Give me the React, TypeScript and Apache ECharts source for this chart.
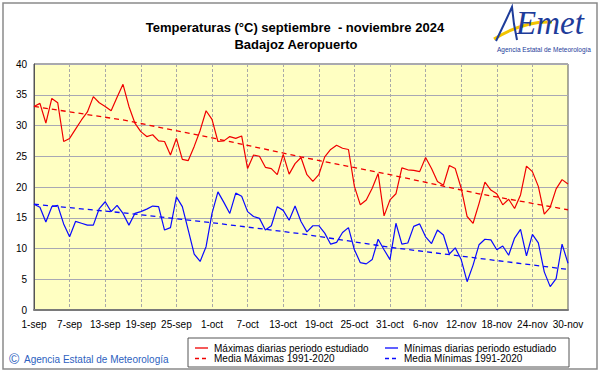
import React, { useEffect, useRef } from "react";
import * as echarts from "echarts";

const months: [string, number][] = [["sep", 30], ["oct", 31], ["nov", 30]];
const categories: string[] = [];
months.forEach(([m, n]) => {
  for (let d = 1; d <= n; d++) categories.push(`${d}-${m}`);
});

const maxTemp = [
  33.1, 33.6, 30.4, 34.4, 33.7, 27.4, 27.9, 29.4, 30.9, 32.2, 34.7, 33.7, 33.1, 32.4, 34.6, 36.7,
  33.1, 30.4, 29.0, 28.2, 28.5, 27.5, 27.4, 25.2, 27.9, 24.5, 24.3, 26.6, 29.2, 32.4, 31.0, 27.4,
  27.5, 28.2, 27.9, 28.3, 23.0, 25.2, 25.0, 23.2, 23.0, 22.0, 25.3, 22.1, 23.8, 24.8, 22.0, 20.9,
  22.0, 24.9, 26.1, 26.8, 26.3, 26.1, 20.1, 17.1, 17.9, 19.8, 22.2, 15.3, 17.9, 18.9, 23.1, 22.8,
  22.7, 22.5, 24.8, 23.0, 20.9, 20.3, 23.5, 23.0, 19.8, 15.2, 14.1, 17.3, 20.8, 19.5, 18.9, 17.1,
  18.0, 16.5, 18.7, 23.4, 22.5, 20.1, 15.6, 16.7, 19.7, 21.2, 20.5,
];

const minTemp = [
  17.2, 16.7, 14.3, 16.8, 17.0, 14.0, 11.9, 14.4, 14.1, 13.8, 13.8, 16.5, 17.6, 16.0, 17.0, 15.7,
  13.8, 15.7, 16.0, 16.4, 16.9, 16.8, 13.0, 13.4, 18.4, 16.8, 13.0, 9.1, 7.9, 10.3, 15.7, 19.2,
  17.5, 15.7, 19.0, 18.5, 16.0, 15.2, 14.9, 13.0, 13.7, 16.8, 16.2, 14.6, 16.9, 14.4, 12.7, 13.7,
  13.7, 12.5, 10.7, 11.0, 12.6, 13.4, 9.8, 7.7, 7.5, 8.2, 11.5, 9.8, 8.2, 14.1, 10.7, 10.9,
  13.6, 14.0, 11.9, 10.8, 13.0, 12.2, 9.1, 10.1, 8.2, 4.6, 7.3, 10.6, 11.5, 11.4, 9.8, 10.4,
  8.9, 11.7, 13.1, 8.8, 12.3, 10.9, 6.2, 3.8, 5.1, 10.7, 7.6,
];

// climatological normals read at a few days
const normalDays = [0, 15, 30, 45, 60, 75, 90];
const normalMax = [33.1, 30.9, 28.0, 24.9, 22.0, 18.9, 16.3];
const normalMin = [17.2, 15.8, 14.2, 12.4, 10.2, 8.4, 6.6];

const RED = "#f00000";
const BLUE = "#0a0aff";
const FONT = "'Liberation Sans', Arial, sans-serif";

export default function App() {
  const ref = useRef<HTMLDivElement>(null);
  useEffect(() => {
    if (!ref.current) return;
    const chart = echarts.init(ref.current, undefined, { renderer: "svg" });
    const legendText = (text: string, x: number, y: number) => ({
      type: "text",
      style: { text, x, y, font: `10px ${FONT}`, fill: "#000", textVerticalAlign: "middle" },
      z: 10,
    });
    const legendLine = (x: number, y: number, color: string, dashed: boolean) => ({
      type: "line",
      shape: { x1: x, y1: y, x2: x + 13, y2: y },
      style: { stroke: color, lineWidth: 1.3, lineDash: dashed ? [4, 3] : null },
      z: 10,
    });
    chart.setOption({
      animation: false,
      backgroundColor: "#ffffff",
      textStyle: { fontFamily: FONT },
      grid: {
        left: 34,
        top: 64,
        right: 33,
        bottom: 64,
        show: true,
        backgroundColor: "#ffffc2",
        borderColor: "#555",
        borderWidth: 1,
      },
      xAxis: {
        type: "category",
        data: categories,
        boundaryGap: false,
        axisTick: { show: false },
        axisLine: { lineStyle: { color: "#7a7a7a", width: 2 } },
        axisLabel: { interval: 5, fontSize: 10, color: "#000", margin: 9, fontFamily: FONT },
        splitLine: { show: true, interval: 5, lineStyle: { color: "#a9a9a9", type: [3, 2], width: 1 } },
      },
      yAxis: {
        type: "value",
        min: 0,
        max: 40,
        interval: 5,
        axisLine: { show: true, lineStyle: { color: "#555", width: 1 } },
        axisTick: { show: false },
        axisLabel: { fontSize: 10, color: "#000", margin: 7, fontFamily: FONT },
        splitLine: { show: true, lineStyle: { color: "#a8a8b4", width: 1 } },
      },
      series: [
        {
          name: "Media Máximas 1991-2020",
          type: "line",
          data: normalDays.map((d, i) => [d, normalMax[i]]),
          symbol: "none",
          lineStyle: { color: RED, width: 1.3, type: [5, 4] },
        },
        {
          name: "Media Mínimas 1991-2020",
          type: "line",
          data: normalDays.map((d, i) => [d, normalMin[i]]),
          symbol: "none",
          lineStyle: { color: BLUE, width: 1.3, type: [5, 4] },
        },
        {
          name: "Máximas diarias periodo estudiado",
          type: "line",
          data: maxTemp,
          symbol: "none",
          lineStyle: { color: RED, width: 1.2 },
        },
        {
          name: "Mínimas diarias periodo estudiado",
          type: "line",
          data: minTemp,
          symbol: "none",
          lineStyle: { color: BLUE, width: 1.2 },
        },
      ],
      graphic: [
        {
          type: "rect",
          shape: { x: 3, y: 3, width: 594, height: 366 },
          style: { fill: "none", stroke: "#8a8a8a", lineWidth: 1.5 },
          z: 1,
        },
        {
          type: "text",
          style: {
            text: "Temperaturas (°C) septiembre  - noviembre 2024",
            x: 295,
            y: 27,
            font: `bold 13px ${FONT}`,
            fill: "#000",
            textAlign: "center",
            textVerticalAlign: "middle",
          },
        },
        {
          type: "text",
          style: {
            text: "Badajoz Aeropuerto",
            x: 296,
            y: 44,
            font: `bold 13px ${FONT}`,
            fill: "#000",
            textAlign: "center",
            textVerticalAlign: "middle",
          },
        },
        // logo
        {
          type: "bezierCurve",
          shape: { x1: 494, y1: 39, cpx1: 512, cpy1: 28, cpx2: 532, cpy2: 21, x2: 552, y2: 22 },
          style: { stroke: "#f2c400", lineWidth: 3, fill: "none" },
          z: 5,
        },
        {
          type: "polyline",
          shape: { points: [[496, 41], [506, 20], [512, 7], [514, 24], [517, 40]] },
          style: { stroke: "#1e3c9a", lineWidth: 2, fill: "none" },
          z: 6,
        },
        {
          type: "text",
          style: {
            text: "Emet",
            x: 516,
            y: 6,
            font: `italic 33px 'Liberation Serif', serif`,
            fill: "#1e3c9a",
          },
          z: 6,
        },
        {
          type: "text",
          style: {
            text: "Agencia Estatal de Meteorología",
            x: 544,
            y: 49,
            font: `6.5px ${FONT}`,
            fill: "#1e3c9a",
            textAlign: "center",
            textVerticalAlign: "middle",
          },
        },
        // legend box
        {
          type: "rect",
          shape: { x: 188, y: 338, width: 381, height: 29 },
          style: { fill: "#fff", stroke: "#555", lineWidth: 1 },
          z: 9,
        },
        legendLine(195, 348, RED, false),
        legendText("Máximas diarias periodo estudiado", 214, 348),
        legendLine(195, 358.5, RED, true),
        legendText("Media Máximas 1991-2020", 214, 358.5),
        legendLine(385, 348, BLUE, false),
        legendText("Mínimas diarias periodo estudiado", 404, 348),
        legendLine(385, 358.5, BLUE, true),
        legendText("Media Mínimas 1991-2020", 404, 358.5),
        // copyright
        {
          type: "text",
          style: {
            text: "©",
            x: 9,
            y: 359,
            font: `14px ${FONT}`,
            fill: "#2d5fc0",
            textVerticalAlign: "middle",
          },
        },
        {
          type: "text",
          style: {
            text: "Agencia Estatal de Meteorología",
            x: 24,
            y: 359,
            font: `10px ${FONT}`,
            fill: "#2d5fc0",
            textVerticalAlign: "middle",
          },
        },
      ],
    });
    return () => chart.dispose();
  }, []);
  return (
    <div
      ref={ref}
      style={{ position: "absolute", left: 0, top: 0, width: 601, height: 374 }}
    />
  );
}
